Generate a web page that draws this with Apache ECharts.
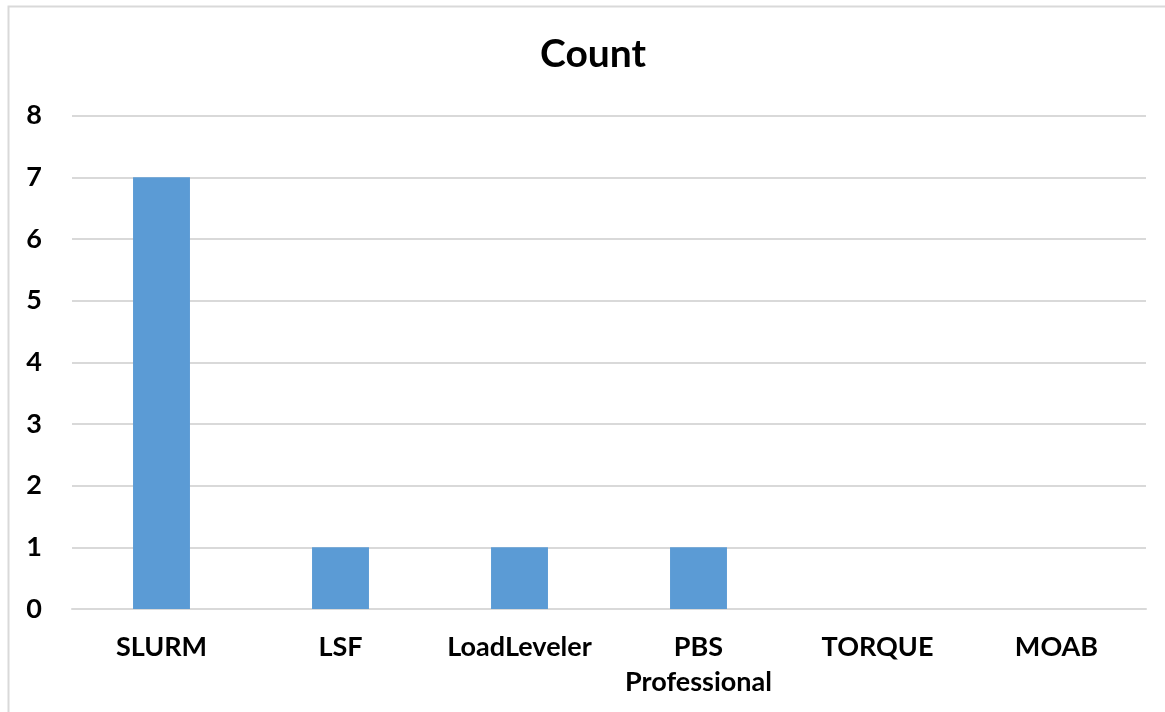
<!DOCTYPE html>
<html>
<head>
<meta charset="utf-8">
<style>
  html, body { margin: 0; padding: 0; background: #ffffff; }
  #chart { width: 1165px; height: 712px; }
</style>
<script src="https://cdn.jsdelivr.net/npm/echarts@6/dist/echarts.min.js"></script>
</head>
<body>
<div id="chart"></div>
<script>
// Workload managers and how many systems use each
const categories = ['SLURM', 'LSF', 'LoadLeveler', 'PBS\nProfessional', 'TORQUE', 'MOAB'];
const counts = [7, 1, 1, 1, 0, 0];
const yTicks = [0, 1, 2, 3, 4, 5, 6, 7, 8];

const fontFamily = 'Lato, "Open Sans", "Liberation Sans", sans-serif';

const chart = echarts.init(document.getElementById('chart'), null, { renderer: 'canvas' });

chart.setOption({
  backgroundColor: '#ffffff',
  animation: false,
  graphic: [{
    type: 'rect',
    shape: { x: 8.5, y: 6.5, width: 1170, height: 720 },
    style: { fill: 'none', stroke: '#d9d9d9', lineWidth: 2 },
    silent: true
  }],
  title: {
    text: 'Count',
    left: 540,
    top: 35,
    padding: 0,
    textStyle: { fontFamily, fontSize: 39, fontWeight: 'bold', color: '#000000' }
  },
  grid: { left: 72, right: 19, top: 115.7, bottom: 103, containLabel: false },
  xAxis: {
    type: 'category',
    data: categories,
    axisLine: { show: true, lineStyle: { color: '#d9d9d9', width: 2 } },
    axisTick: { show: false },
    axisLabel: {
      margin: 21,
      fontFamily, fontSize: 27, fontWeight: 'bold', color: '#000000',
      lineHeight: 35, interval: 0
    }
  },
  yAxis: {
    type: 'value',
    min: yTicks[0],
    max: yTicks[yTicks.length - 1],
    interval: 1,
    axisLine: { show: false },
    axisTick: { show: false },
    splitLine: { lineStyle: { color: '#d9d9d9', width: 2 } },
    axisLabel: {
      margin: 30,
      fontFamily, fontSize: 27, fontWeight: 'bold', color: '#000000'
    }
  },
  series: [{
    type: 'bar',
    data: counts,
    barWidth: '31.8%',
    itemStyle: { color: '#5b9bd5' }
  }]
});
</script>
</body>
</html>
